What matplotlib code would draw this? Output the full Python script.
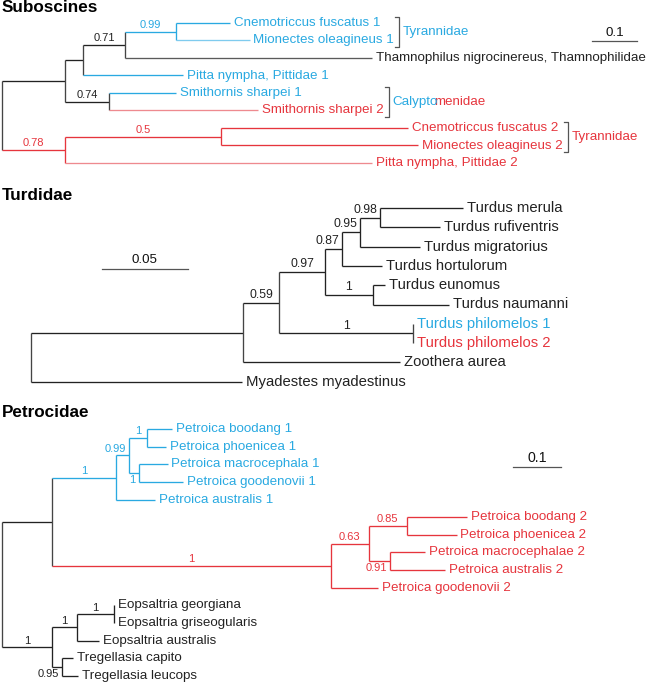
import matplotlib
matplotlib.use("Agg")
import matplotlib.pyplot as plt
from matplotlib.lines import Line2D

plt.rcParams['font.family'] = ['Liberation Sans', 'DejaVu Sans']

W, H, DPI = 650, 684, 100

# ---------------- data ----------------
def L(name, bl):
    return (name, bl, None, [])

def N(bl, sup, *kids):
    return (None, bl, sup, list(kids))

# Suboscines (branch lengths in substitutions/site)
sub_tree = N(0, None,
    N(0.140, None,
      N(0.040, None,
        N(0.093, 0.71,
          N(0.113, 0.99,
            L("Cnemotriccus fuscatus 1", 0.120),
            L("Mionectes oleagineus 1", 0.164)),
          L("Thamnophilus nigrocinereus, Thamnophilidae", 0.549)),
        L("Pitta nympha, Pittidae 1", 0.222)),
      N(0.098, 0.74,
        L("Smithornis sharpei 1", 0.149),
        L("Smithornis sharpei 2", 0.331))),
    N(0.140, 0.78,
      N(0.347, 0.5,
        L("Cnemotriccus fuscatus 2", 0.416),
        L("Mionectes oleagineus 2", 0.438)),
      L("Pitta nympha, Pittidae 2", 0.682)))
sub_blue = ["Cnemotriccus fuscatus 1", "Mionectes oleagineus 1",
            "Pitta nympha, Pittidae 1", "Smithornis sharpei 1"]
sub_red = ["Smithornis sharpei 2", "Cnemotriccus fuscatus 2",
           "Mionectes oleagineus 2", "Pitta nympha, Pittidae 2"]
sub_groups = [(["Cnemotriccus fuscatus 1", "Mionectes oleagineus 1"], [("Tyrannidae", "blue")]),
              (["Smithornis sharpei 1", "Smithornis sharpei 2"], [("Calypto", "blue"), ("menidae", "red")]),
              (["Cnemotriccus fuscatus 2", "Mionectes oleagineus 2"], [("Tyrannidae", "red")])]
sub_scale = 0.1

# Turdidae
turd_tree = N(0, None,
    N(0.1233, None,
      N(0.0209, 0.59,
        N(0.0267, 0.97,
          N(0.0099, 0.87,
            N(0.0105, 0.95,
              N(0.0116, 0.98,
                L("Turdus merula", 0.0483),
                L("Turdus rufiventris", 0.0349)),
              L("Turdus migratorius", 0.0349)),
            L("Turdus hortulorum", 0.0233)),
          N(0.0279, 1,
            L("Turdus eunomus", 0.0070),
            L("Turdus naumanni", 0.0442))),
        N(0.0779, 1,
          L("Turdus philomelos 1", 0.0),
          L("Turdus philomelos 2", 0.0))),
      L("Zoothera aurea", 0.0913)),
    L("Myadestes myadestinus", 0.1227))
turd_blue = ["Turdus philomelos 1"]
turd_red = ["Turdus philomelos 2"]
turd_scale = 0.05

# Petrocidae
pet_tree = N(0, None,
    N(0.104, None,
      N(0.133, 1,
        N(0.027, 0.99,
          N(0.0375, 1,
            L("Petroica boodang 1", 0.052),
            L("Petroica phoenicea 1", 0.040)),
          N(0.021, 1,
            L("Petroica macrocephala 1", 0.060),
            L("Petroica goodenovii 1", 0.092))),
        L("Petroica australis 1", 0.081)),
      N(0.581, 1,
        N(0.079, 0.63,
          N(0.079, 0.85,
            L("Petroica boodang 2", 0.125),
            L("Petroica phoenicea 2", 0.104)),
          N(0.044, 0.91,
            L("Petroica macrocephalae 2", 0.073),
            L("Petroica australis 2", 0.115))),
        L("Petroica goodenovii 2", 0.098))),
    N(0.104, 1,
      N(0.052, 1,
        N(0.077, 1,
          L("Eopsaltria georgiana", 0.0),
          L("Eopsaltria griseogularis", 0.0)),
        L("Eopsaltria australis", 0.046)),
      N(0.021, 0.95,
        L("Tregellasia capito", 0.023),
        L("Tregellasia leucops", 0.033))))
pet_blue = ["Petroica boodang 1", "Petroica phoenicea 1", "Petroica macrocephala 1",
            "Petroica goodenovii 1", "Petroica australis 1"]
pet_red = ["Petroica boodang 2", "Petroica phoenicea 2", "Petroica macrocephalae 2",
           "Petroica australis 2", "Petroica goodenovii 2"]
pet_scale = 0.1

# ---------------- styles ----------------
COL = {"blue": "#29a9e1", "red": "#e6353d", "black": "#222222", "mixed": "#444444"}
LIGHT = {"Mionectes oleagineus 1": "#7fcbee", "Smithornis sharpei 2": "#ee8a8f",
         "Pitta nympha, Pittidae 2": "#ee8a8f",
         "Thamnophilus nigrocinereus, Thamnophilidae": "#5a5a5a"}
BELOW = {"Petroica macrocephala 1", "Petroica macrocephalae 2", "Tregellasia capito"}
LW = 0.95
JOIN_PX = -3.5   # pull chained word pieces together (extent padding)

fig = plt.figure(figsize=(W / DPI, H / DPI), dpi=DPI)
renderer = fig.canvas.get_renderer()


def make_ax(top, bot, root_px, ppu, y0, dy):
    ax = fig.add_axes([0, 1 - bot / H, 1, (bot - top) / H])
    ax.set_xlim(-root_px / ppu, (W - root_px) / ppu)
    ax.set_ylim((bot - y0) / dy, (top - y0) / dy)
    ax.axis('off')
    return ax


def to_data(ax, px, py):
    return ax.transData.inverted().transform((px, H - py))


def to_px(ax, x, y):
    dx, dy = ax.transData.transform((x, y))
    return dx, H - dy


def build(node, px=0.0):
    name, bl, sup, kids = node
    x = px + bl
    return dict(name=name, x=x, px=px, sup=sup, kids=[build(k, x) for k in kids])


def assign_y(rec, counter):
    if not rec['kids']:
        rec['y'] = counter[0]
        counter[0] += 1
        rec['leaves'] = [rec['name']]
    else:
        for k in rec['kids']:
            assign_y(k, counter)
        rec['y'] = (rec['kids'][0]['y'] + rec['kids'][-1]['y']) / 2
        rec['leaves'] = sum((k['leaves'] for k in rec['kids']), [])


def group_of(leaves, blue, red):
    gs = set('blue' if l in blue else 'red' if l in red else 'black' for l in leaves)
    return gs.pop() if len(gs) == 1 else 'mixed'


def draw_tree(ax, tree, blue, red, tip_fs, sup_fs):
    root = build(tree)
    assign_y(root, [0])
    texts = {}

    def rec_draw(r, parent_y):
        g = group_of(r['leaves'], blue, red)
        col = COL[g] if g != 'mixed' else COL['black']
        if not r['kids']:
            col = LIGHT.get(r['name'], col)
        if parent_y is not None:
            ax.plot([r['px'], r['x']], [r['y'], r['y']], color=col, lw=LW,
                    solid_capstyle='butt')
        if r['kids']:
            vcol = COL[g] if g != 'mixed' else COL['mixed']
            ys = [k['y'] for k in r['kids']]
            ax.plot([r['x'], r['x']], [min(ys), max(ys)], color=vcol, lw=LW,
                    solid_capstyle='butt')
            for k in r['kids']:
                rec_draw(k, r['y'])
            if r['sup'] is not None and parent_y is not None:
                s = f"{r['sup']:g}"
                scol = COL[g] if g != 'mixed' else COL['black']
                nx, _ = to_px(ax, r['x'], r['y'])
                if r['leaves'][0] in BELOW:
                    ax.annotate(s, xy=(r['x'], r['y']), xytext=(-2.2, -1.2),
                                textcoords='offset points', ha='right', va='top',
                                fontsize=sup_fs, color=scol)
                else:
                    t = ax.annotate(s, xy=((r['px'] + r['x']) / 2, r['y']),
                                    xytext=(0, 1.2), textcoords='offset points',
                                    ha='center', va='bottom', fontsize=sup_fs, color=scol)
                    bb = t.get_window_extent(renderer)
                    if bb.x1 > nx - 3:
                        t.remove()
                        ax.annotate(s, xy=(r['x'], r['y']), xytext=(-2.2, 1.2),
                                    textcoords='offset points', ha='right', va='bottom',
                                    fontsize=sup_fs, color=scol)
        else:
            tg = 'blue' if r['name'] in blue else 'red' if r['name'] in red else 'black'
            t = ax.annotate(r['name'], xy=(r['x'], r['y']), xytext=(2.8, 0),
                            textcoords='offset points', ha='left', va='center',
                            fontsize=tip_fs, color=COL[tg])
            texts[r['name']] = (t, r['y'])

    rec_draw(root, None)
    return texts


def fig_line(xs, ys, color):
    fig.add_artist(Line2D([x / W for x in xs], [1 - y / H for y in ys],
                          color=color, lw=0.9, transform=fig.transFigure))


def fig_text(px, py, s, **kw):
    return fig.text(px / W, 1 - py / H, s, **kw)


def scale_bar(ax, px_start, py, length, label, fs, text_gap):
    x0, y0 = to_data(ax, px_start, py)
    ax.plot([x0, x0 + length], [y0, y0], color="#555555", lw=0.9)
    ax.annotate(label, xy=(x0 + length / 2, y0), xytext=(0, text_gap),
                textcoords='offset points', ha='center', va='bottom',
                fontsize=fs, color="#111111")


# ---------------- Suboscines ----------------
ax1 = make_ax(0, 180, 2, 450, 23, 17.5)
t1 = draw_tree(ax1, sub_tree, sub_blue, sub_red, 9.6, 8.0)
fig_text(2, 8, "Suboscines", fontsize=12.3, fontweight='bold', va='center', ha='left')
scale_bar(ax1, 592, 41, sub_scale, "0.1", 9.6, 1.5)

for leaves, parts in sub_groups:
    right = max(t1[l][0].get_window_extent(renderer).x1 for l in leaves)
    ys = [to_px(ax1, 0, t1[l][1])[1] for l in leaves]
    bx = right + 5
    top, bot = min(ys) - 6, max(ys) + 6
    fig_line([bx - 4, bx, bx, bx - 4], [top, top, bot, bot], "#555555")
    cx = bx + 4
    cy = (top + bot) / 2
    prev = fig_text(cx, cy, parts[0][0], fontsize=9.6, color=COL[parts[0][1]],
                    ha='left', va='center')
    for s, c in parts[1:]:
        prev = ax1.annotate(s, xy=(1, 0), xycoords=prev, xytext=(JOIN_PX, 0),
                            textcoords='offset pixels', ha='left', va='bottom',
                            fontsize=9.6, color=COL[c], annotation_clip=False)

# ---------------- Turdidae ----------------
ax2 = make_ax(180, 400, 31, 1720, 208, 19.3)
draw_tree(ax2, turd_tree, turd_blue, turd_red, 10.7, 8.8)
fig_text(2, 195, "Turdidae", fontsize=12.3, fontweight='bold', va='center', ha='left')
scale_bar(ax2, 102, 269, turd_scale, "0.05", 9.6, 2.0)

# ---------------- Petrocidae ----------------
ax3 = make_ax(400, 684, 2, 480, 429, 17.64)
draw_tree(ax3, pet_tree, pet_blue, pet_red, 9.6, 8.0)
fig_text(2, 413, "Petrocidae", fontsize=12.3, fontweight='bold', va='center', ha='left')
scale_bar(ax3, 513, 467, pet_scale, "0.1", 10.2, 1.5)

fig.savefig("out.png", dpi=DPI)
